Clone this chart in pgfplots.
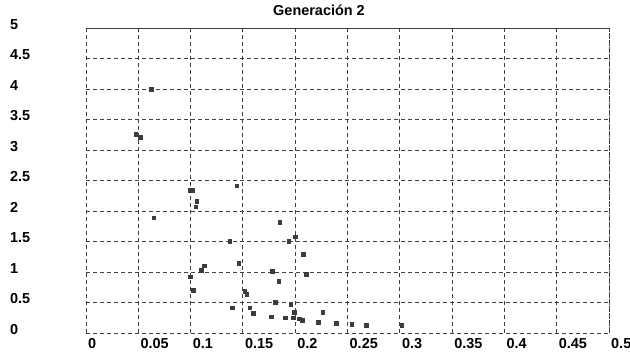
\documentclass[border=0pt]{standalone}
\usepackage{pgfplots}
\pgfplotsset{compat=1.18}
\usepackage{fontspec}
\setmainfont{Liberation Sans}
\definecolor{gridc}{HTML}{404040}
\definecolor{ptc}{HTML}{3C3C3C}
\begin{document}
\begin{tikzpicture}[x=1bp,y=1bp]
\useasboundingbox (0,0) rectangle (630,354);
\begin{axis}[
  at={(86bp,21bp)}, anchor=south west,
  scale only axis, width=523bp, height=305bp,
  xmin=0, xmax=0.5, ymin=0, ymax=5,
  xtick={0,0.05,0.1,0.15,0.2,0.25,0.3,0.35,0.4,0.45,0.5},
  xticklabels={0,0.05,0.1,0.15,0.2,0.25,0.3,0.35,0.4,0.45,0.5},
  ytick={0,0.5,1,1.5,2,2.5,3,3.5,4,4.5,5},
  yticklabels={0,0.5,1,1.5,2,2.5,3,3.5,4,4.5,5},
  /pgf/number format/assume math mode=true,
  grid=major,
  major grid style={gridc, line width=1bp, dash pattern=on 4bp off 3bp},
  axis line style={gridc, line width=1bp, dash pattern=on 4bp off 3bp},
  major tick length=0pt,
  tick label style={font=\fontsize{14.5}{16}\selectfont\bfseries, inner sep=0pt, text=black},
  xticklabel style={anchor=north west, xshift=2bp, yshift=-5bp},
  yticklabel style={anchor=base west, xshift=-76bp, yshift=-1.3bp},
  title={Generación 2},
  title style={at={(0.4455,1)}, anchor=base, yshift=6.3bp, inner sep=0pt,
    font=\fontsize{14.5}{16}\selectfont\bfseries},
]
\addplot[only marks, mark=square*, mark size=1.8bp, mark options={fill=ptc, draw=ptc, line width=0.3bp, solid}]
coordinates {
(0.0621,4.000) (0.0475,3.257) (0.0516,3.213)
(0.0989,2.344) (0.1018,2.344) (0.1058,2.164) (0.1048,2.071)
(0.1441,2.415) (0.0647,1.890) (0.1372,1.508)
(0.1131,1.103) (0.1099,1.033) (0.1460,1.143) (0.0997,0.923)
(0.1026,0.705) (0.1517,0.689) (0.1536,0.639)
(0.1399,0.415) (0.1565,0.418) (0.1598,0.328)
(0.1852,1.815) (0.2001,1.579) (0.1938,1.503) (0.2075,1.290)
(0.1778,1.016) (0.2106,0.962) (0.1842,0.852)
(0.1809,0.508) (0.1957,0.464) (0.1989,0.341) (0.2264,0.341)
(0.1769,0.267) (0.1905,0.251) (0.1979,0.251)
(0.2036,0.238) (0.2065,0.213) (0.2221,0.177)
(0.2390,0.159) (0.2540,0.143) (0.2677,0.126) (0.3018,0.126)
};
\end{axis}
\end{tikzpicture}
\end{document}
